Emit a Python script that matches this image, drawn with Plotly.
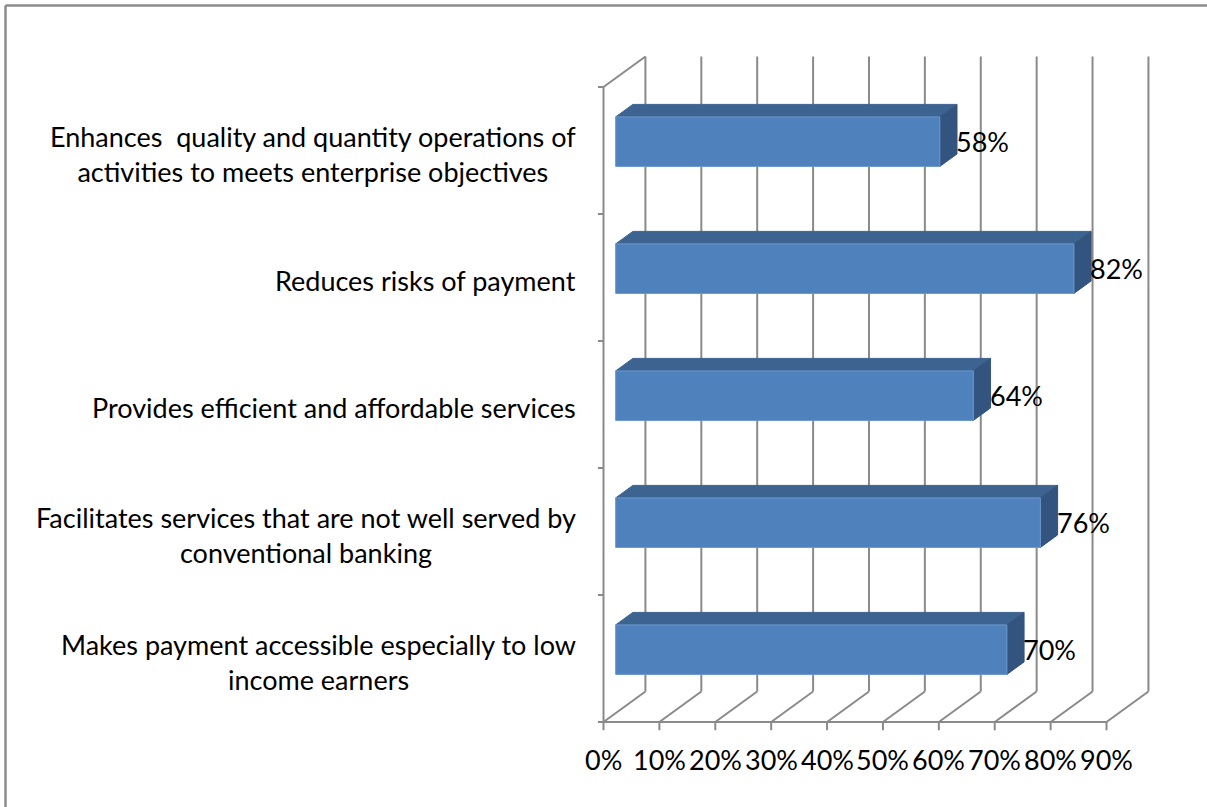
import plotly.graph_objects as go

# Survey results: share of respondents agreeing with each statement
categories = [
    "Makes payment accessible especially to low<br>income earners",
    "Facilitates services that are not well served by<br>conventional banking",
    "Provides efficient and affordable services",
    "Reduces risks of payment",
    "Enhances  quality and quantity operations of<br>activities to meets enterprise objectives",
]
values = [70, 76, 64, 82, 58]
tick_values = [0, 10, 20, 30, 40, 50, 60, 70, 80, 90]
tick_labels = [f"{t}%" for t in tick_values]

# Canvas / scale setup
W, H = 1207, 807
X0_PX, PX_PER_PCT = 603.5, 5.589
FLOOR_PX, PX_PER_CAT = 722, 127
x_range = [-X0_PX / PX_PER_PCT, (W - X0_PX) / PX_PER_PCT]
y_range = [-(H - FLOOR_PX) / PX_PER_CAT, FLOOR_PX / PX_PER_CAT]

# Oblique projection for the 3-D look (depth d in [0, 1])
DEPTH_DX = 7.5    # in percent units
DEPTH_DY = 0.24   # in category units
N = len(categories)
X_MAX = tick_values[-1]


def proj(v, c, d):
    return v + d * DEPTH_DX, c + d * DEPTH_DY


GRID = "#8a8a8a"
FRONT = "#4f81bd"
TOP = "#3d6391"
SIDE = "#32547f"
FONT = "Lato"
FS = 27

fig = go.Figure()

# Walls, floor and gridlines
gx, gy = [], []


def seg(p, q):
    gx.extend([p[0], q[0], None])
    gy.extend([p[1], q[1], None])


for t in tick_values:
    seg(proj(t, 0, 1), proj(t, N, 1))       # back wall vertical
    seg(proj(t, 0, 0), proj(t, 0, 1))       # floor diagonal
    seg(proj(t, 0, 0), (t, -0.065))          # axis tick
seg(proj(0, 0, 0), proj(X_MAX, 0, 0))        # floor front edge
seg(proj(0, 0, 0), proj(0, N, 0))            # side wall front edge
seg(proj(0, N, 0), proj(0, N, 1))            # side wall top edge
for k in range(N + 1):
    seg(proj(0, k, 0), (-1.0, k))            # category ticks

fig.add_trace(go.Scatter(x=gx, y=gy, mode="lines",
                         line=dict(color=GRID, width=2),
                         hoverinfo="skip", showlegend=False))

# Bars
D0, D1, HALF = 0.29, 0.70, 0.195


def face(pts, color, edge):
    xs = [p[0] for p in pts] + [pts[0][0]]
    ys = [p[1] for p in pts] + [pts[0][1]]
    fig.add_trace(go.Scatter(x=xs, y=ys, mode="lines", fill="toself",
                             fillcolor=color, line=dict(color=edge, width=1),
                             hoverinfo="skip", showlegend=False))


for i, v in enumerate(values):
    c = i + 0.5
    yb, yt = c - HALF, c + HALF
    # top face
    face([proj(0, yt, D0), proj(v, yt, D0), proj(v, yt, D1), proj(0, yt, D1)], TOP, TOP)
    # right face
    face([proj(v, yb, D0), proj(v, yt, D0), proj(v, yt, D1), proj(v, yb, D1)], SIDE, SIDE)
    # front face
    face([proj(0, yb, D0), proj(v, yb, D0), proj(v, yt, D0), proj(0, yt, D0)], FRONT, "#6b96cc")

annotations = []
# Value labels
for i, v in enumerate(values):
    c = i + 0.5
    x, _ = proj(v, c, D1)
    _, y = proj(v, c, D0)
    annotations.append(dict(x=x, y=y, text=f"{v}%", showarrow=False,
                            xanchor="left", yanchor="middle", xshift=-3,
                            font=dict(family=FONT, size=FS, color="black")))

# Category labels
for i, name in enumerate(categories):
    annotations.append(dict(x=0, y=i + 0.5, text=name, showarrow=False,
                            xanchor="right", yanchor="middle", align="center",
                            xshift=-26, yshift=-3,
                            font=dict(family=FONT, size=FS, color="black")))

# Value-axis tick labels
for t, lab in zip(tick_values, tick_labels):
    annotations.append(dict(x=t, y=0, text=lab, showarrow=False,
                            xanchor="center", yanchor="middle", yshift=-37,
                            font=dict(family=FONT, size=FS, color="black")))

# Chart-area border (top and left edges)
shapes = [
    dict(type="line", xref="paper", yref="paper", x0=5.5 / W, x1=1.0,
         y0=1 - 5.5 / H, y1=1 - 5.5 / H, line=dict(color="#8c8c8c", width=2.5)),
    dict(type="line", xref="paper", yref="paper", x0=5.5 / W, x1=5.5 / W,
         y0=0, y1=1 - 5.5 / H, line=dict(color="#8c8c8c", width=2.5)),
]

fig.update_layout(
    width=W, height=H,
    margin=dict(l=0, r=0, t=0, b=0),
    paper_bgcolor="white", plot_bgcolor="white",
    xaxis=dict(range=x_range, visible=False, fixedrange=True),
    yaxis=dict(range=y_range, visible=False, fixedrange=True),
    annotations=annotations, shapes=shapes,
    showlegend=False,
)

fig.write_html("out.html")
